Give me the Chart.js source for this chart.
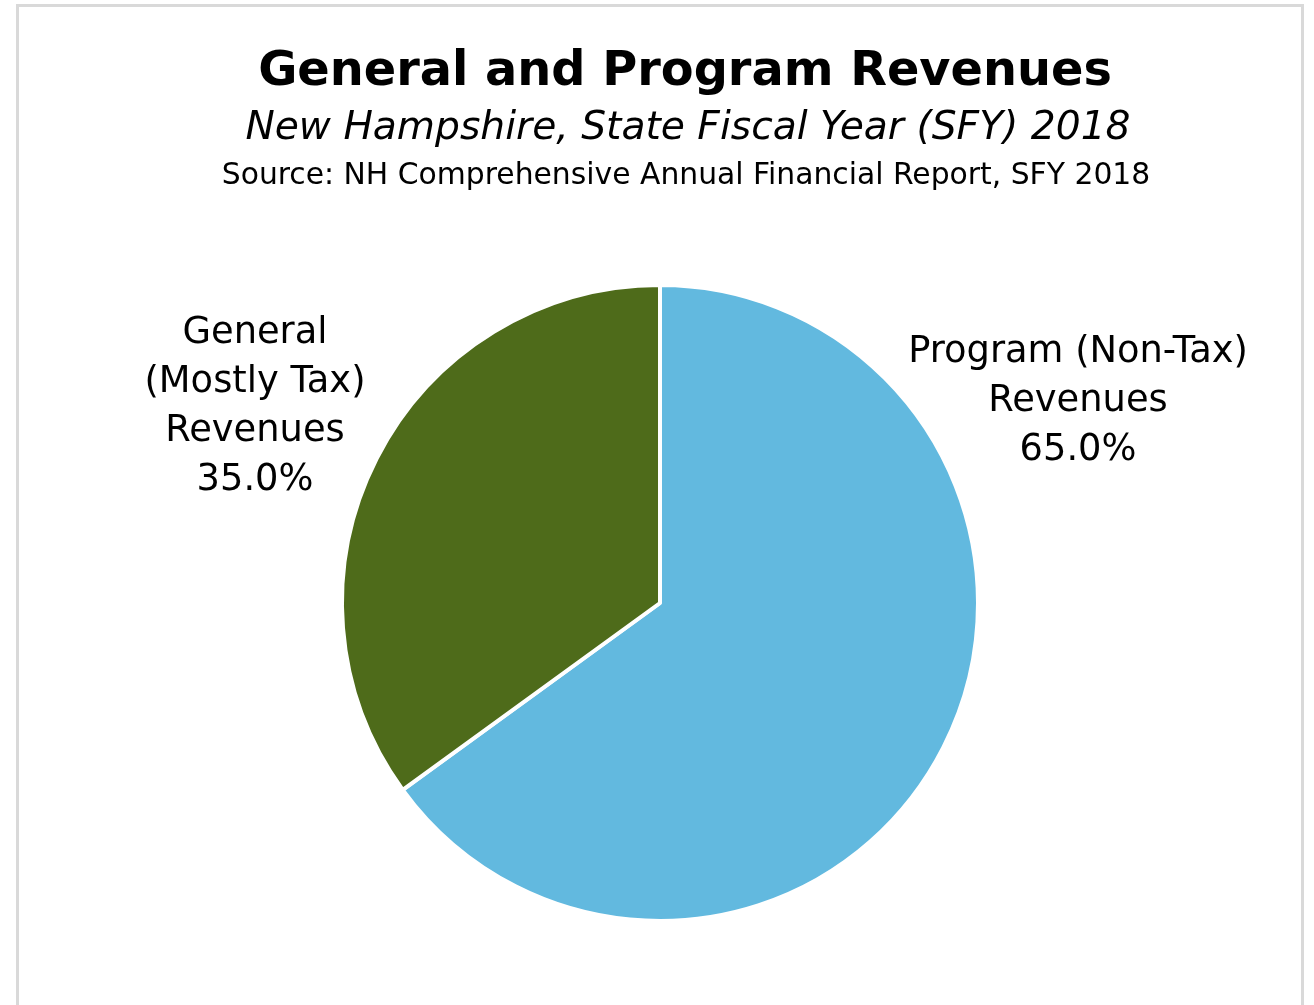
<!DOCTYPE html>
<html>
<head>
<meta charset="utf-8">
<script src="https://cdn.jsdelivr.net/npm/chart.js@4"></script>
<style>
  html, body { margin: 0; padding: 0; background: #fff; overflow: hidden; }
  #frame {
    position: absolute; left: 16px; top: 4px;
    width: 1282px; height: 1100px;
    border: 3px solid #d9d9d9; border-bottom: none;
  }
  #wrap { position: absolute; left: 0; top: 0; width: 1314px; height: 1005px; }
</style>
</head>
<body>
<div id="frame"></div>
<div id="wrap"><canvas id="mycanvas" width="1314" height="1005"></canvas></div>
<script>
var labels = ["Program (Non-Tax)\nRevenues", "General\n(Mostly Tax)\nRevenues"];
var shares = [65.0, 35.0];
var colors = ["#62b9df", "#4e6b1a"];

var titleText = "General and Program Revenues";
var subtitleText = "New Hampshire, State Fiscal Year (SFY) 2018";
var sourceText = "Source: NH Comprehensive Annual Financial Report, SFY 2018";

var FONT = "'DejaVu Sans', Tahoma, Verdana, sans-serif";

// size a font so the text spans the wanted width
function fitFont(ctx, text, style, width) {
	ctx.font = style + " 40px " + FONT;
	var w = ctx.measureText(text).width;
	return style + " " + (40 * width / w).toFixed(1) + "px " + FONT;
}

var textPlugin = {
	id: "texts",
	afterDraw: function(chart) {
		var ctx = chart.ctx;
		ctx.save();
		ctx.fillStyle = "#000";
		ctx.textAlign = "center";
		ctx.textBaseline = "alphabetic";

		ctx.font = fitFont(ctx, titleText, "bold", 854);
		ctx.fillText(titleText, 685, 85);
		ctx.font = fitFont(ctx, subtitleText, "italic", 885);
		ctx.fillText(subtitleText, 688, 139);
		ctx.font = fitFont(ctx, sourceText, "normal", 928);
		ctx.fillText(sourceText, 686, 184);

		// slice labels
		var spots = [{x: 1078, y: 362}, {x: 255, y: 343}];
		ctx.font = fitFont(ctx, "Program (Non-Tax)", "normal", 340);
		for (var i = 0; i < labels.length; i++) {
			var lines = labels[i].split("\n");
			lines.push(shares[i].toFixed(1) + "%");
			for (var j = 0; j < lines.length; j++) {
				ctx.fillText(lines[j], spots[i].x, spots[i].y + j * 49);
			}
		}
		ctx.restore();
	}
};

var ctx = document.getElementById("mycanvas");

var pieChart = new Chart(ctx, {
	type: "pie",
	data: {
		labels: labels,
		datasets: [{
			data: shares,
			backgroundColor: colors,
			borderColor: "#ffffff",
			borderWidth: 4,
			hoverOffset: 0
		}]
	},
	options: {
		responsive: false,
		animation: false,
		radius: 318,
		layout: { padding: { left: 330, right: 324, top: 273, bottom: 72 } },
		plugins: {
			legend: { display: false },
			tooltip: { enabled: false }
		}
	},
	plugins: [textPlugin]
});
</script>
</body>
</html>
